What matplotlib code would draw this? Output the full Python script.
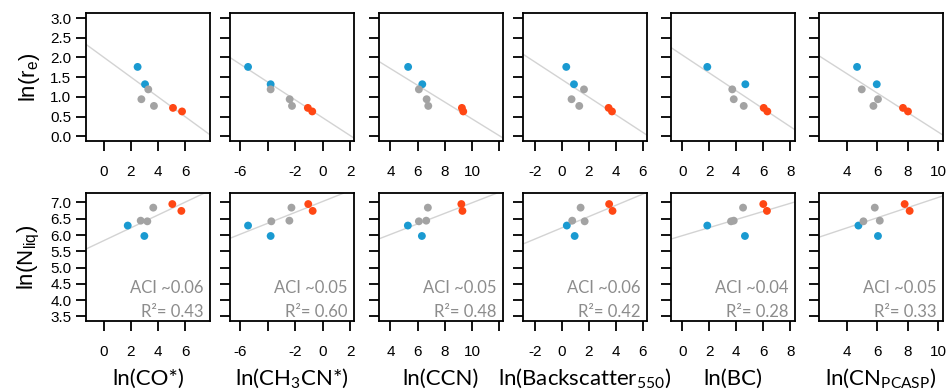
import matplotlib
matplotlib.use("Agg")
import matplotlib.pyplot as plt
import numpy as np

# colour group of each point (same order in every panel)
point_colors = ["#1a9ad1", "#1a9ad1", "#a3a3a3", "#a3a3a3", "#a3a3a3", "#ff4714", "#ff4714"]

# response variables
ln_re = [1.76, 1.32, 1.19, 0.94, 0.77, 0.72, 0.63]
ln_nliq = [6.29, 5.97, 6.42, 6.44, 6.84, 6.95, 6.74]

# predictors, top row (vs ln re)
co_top = [2.49, 3.04, 3.28, 2.77, 3.70, 5.11, 5.78]
ch3cn_top = [-5.42, -3.78, -3.78, -2.40, -2.23, -1.08, -0.76]
ccn_top = [5.30, 6.34, 6.09, 6.66, 6.78, 9.25, 9.35]
bsc_top = [0.33, 0.90, 1.64, 0.72, 1.29, 3.46, 3.71]
bc_top = [1.85, 4.67, 3.70, 3.81, 4.55, 6.03, 6.30]
cn_top = [4.66, 5.96, 4.97, 6.04, 5.74, 7.69, 8.02]

# predictors, bottom row (vs ln Nliq)
co_bot = [1.76, 2.99, 3.21, 2.72, 3.65, 5.06, 5.73]
ch3cn_bot = [-5.42, -3.78, -3.73, -2.42, -2.27, -1.05, -0.73]
ccn_bot = [5.28, 6.31, 6.09, 6.63, 6.75, 9.21, 9.29]
bsc_bot = [0.37, 0.95, 1.69, 0.77, 1.39, 3.50, 3.75]
bc_bot = [1.85, 4.64, 3.61, 3.81, 4.50, 6.00, 6.27]
cn_bot = [4.75, 6.04, 5.08, 6.16, 5.83, 7.80, 8.13]

# fitted lines (intercept, slope)
top_intercept = [2.00, 0.47, 2.57, 1.44, 2.06, 2.57]
top_slope = [-0.250, -0.227, -0.213, -0.224, -0.227, -0.246]
bot_intercept = [5.83, 7.03, 5.37, 6.22, 5.98, 5.60]
bot_slope = [0.196, 0.168, 0.162, 0.173, 0.124, 0.155]

aci_text = ["ACI ~0.06", "ACI ~0.05", "ACI ~0.05", "ACI ~0.06", "ACI ~0.04", "ACI ~0.05"]
r2_values = [0.43, 0.60, 0.48, 0.42, 0.28, 0.33]

xlabels = ["ln(CO*)", r"ln(CH$_\mathregular{3}$CN*)", "ln(CCN)",
           r"ln(Backscatter$_\mathregular{550}$)", "ln(BC)", r"ln(CN$_\mathregular{PCASP}$)"]
xlims = [(-1.33, 7.85), (-6.73, 2.27), (3.16, 12.27), (-2.87, 6.30), (-0.84, 8.35), (2.15, 10.33)]
xticks = [[0, 2, 4, 6], [-6, -4, -2, 0, 2], [4, 6, 8, 10, 12], [-2, 0, 2, 4, 6], [0, 2, 4, 6, 8], [4, 6, 8, 10]]
xticklabels = [["0", "2", "4", "6"], ["-6", "", "-2", "0", "2"], ["4", "6", "8", "10", ""],
               ["-2", "0", "2", "4", "6"], ["0", "2", "4", "6", "8"], ["4", "6", "8", "10"]]
top_yticks = [0.0, 0.5, 1.0, 1.5, 2.0, 2.5, 3.0]
bot_yticks = [3.5, 4.0, 4.5, 5.0, 5.5, 6.0, 6.5, 7.0]

x_top = [co_top, ch3cn_top, ccn_top, bsc_top, bc_top, cn_top]
x_bot = [co_bot, ch3cn_bot, ccn_bot, bsc_bot, bc_bot, cn_bot]

W, H = 950, 392
fig = plt.figure(figsize=(W / 100, H / 100), dpi=100)

box_left = [86, 230, 379, 523, 671, 819]
box_w = 124
tick_font = "Liberation Sans"
label_font = "Lato"


def style_axes(ax, col, yt, show_ylab):
    ax.set_xlim(*xlims[col])
    ax.set_xticks(xticks[col])
    ax.set_xticklabels(xticklabels[col], fontfamily=tick_font, fontsize=11)
    ax.set_yticks(yt)
    if show_ylab:
        ax.set_yticklabels([f"{v:.1f}" for v in yt], fontfamily=tick_font, fontsize=11)
    else:
        ax.set_yticklabels([])
    ax.tick_params(axis="x", length=7.5, width=1.3, pad=10, direction="out")
    ax.tick_params(axis="y", length=7.5, width=1.3, pad=3, direction="out")
    for s in ax.spines.values():
        s.set_linewidth(1.3)


for col in range(6):
    l = box_left[col] / W
    # top row
    ax = fig.add_axes([l, 1 - 141 / H, box_w / W, 127.7 / H])
    ax.axline((0, top_intercept[col]), slope=top_slope[col], color="#d3d3d3", lw=1.0, zorder=1)
    ax.scatter(x_top[col], ln_re, c=point_colors, s=32, zorder=3, linewidths=0)
    ax.set_ylim(-0.12, 3.12)
    style_axes(ax, col, top_yticks, col == 0)
    if col == 0:
        ax.set_ylabel(r"ln(r$_\mathregular{e}$)", fontfamily=tick_font, fontsize=16, labelpad=6)

    # bottom row
    ax2 = fig.add_axes([l, 1 - 320.7 / H, box_w / W, 127.4 / H])
    ax2.axline((0, bot_intercept[col]), slope=bot_slope[col], color="#d3d3d3", lw=1.0, zorder=1)
    ax2.scatter(x_bot[col], ln_nliq, c=point_colors, s=32, zorder=3, linewidths=0)
    ax2.set_ylim(3.37, 7.28)
    style_axes(ax2, col, bot_yticks, col == 0)
    if col == 0:
        ax2.set_ylabel(r"ln(N$_\mathregular{liq}$)", fontfamily=tick_font, fontsize=16, labelpad=6)
    ax2.text(0.945, 0.255, aci_text[col], transform=ax2.transAxes, ha="right", va="center",
             fontfamily=label_font, fontsize=12, color="#8c8c8c")
    ax2.text(0.945, 0.07, f"R²= {r2_values[col]:.2f}", transform=ax2.transAxes, ha="right", va="center",
             fontfamily=label_font, fontsize=12, color="#8c8c8c")

    fig.text((box_left[col] + box_w / 2) / W, 1 - 385 / H, xlabels[col], ha="center", va="baseline",
             fontfamily=label_font, fontsize=16)

fig.savefig("out.png", dpi=100)
